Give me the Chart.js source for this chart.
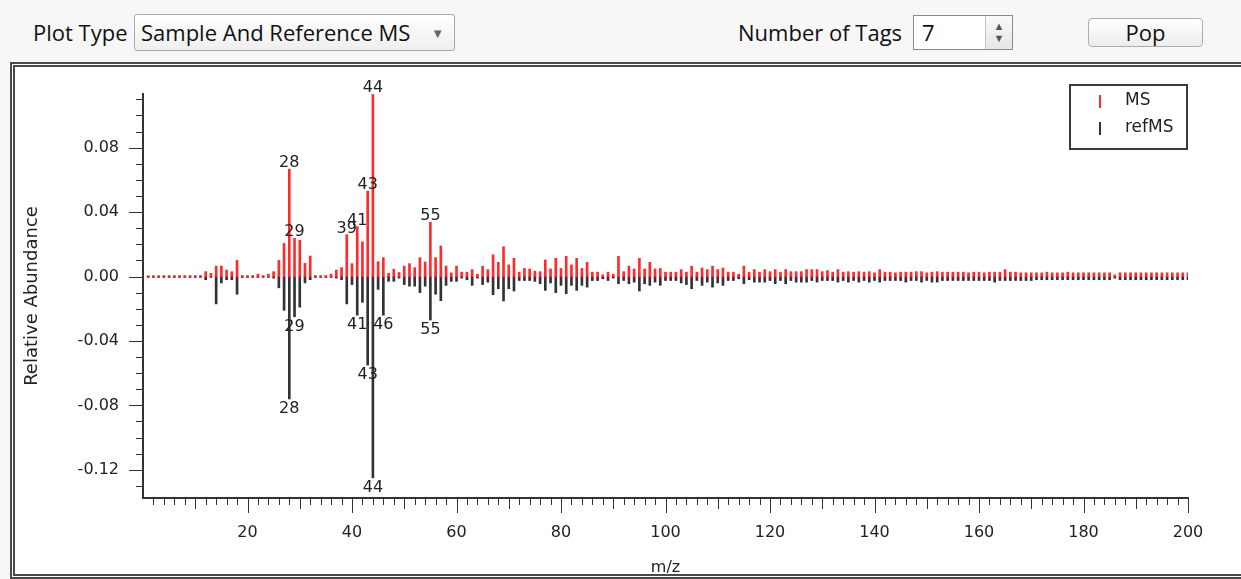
<!DOCTYPE html>
<html>
<head>
<meta charset="utf-8">
<script src="https://cdn.jsdelivr.net/npm/chart.js@4.4.1/dist/chart.umd.min.js"></script>
<style>
  body { margin: 0; width: 1241px; height: 579px; overflow: hidden; position: relative;
         background: #f7f7f7; font-family: "Open Sans", sans-serif; color: #111; }
  .lbl { position: absolute; font-size: 22px; line-height: 28px; }
  .combo { position: absolute; left: 134px; top: 14px; width: 321px; height: 37px; box-sizing: border-box;
           border: 1px solid #a9a9a9; border-radius: 3px; background: linear-gradient(#ffffff, #efefef);
           font-size: 22px; line-height: 34px; padding-left: 6px; }
  .combo .arrow { position: absolute; right: 10px; top: 1px; font-size: 13px; color: #666; }
  .spin { position: absolute; left: 913px; top: 15px; width: 100px; height: 35px; box-sizing: border-box;
          border: 1px solid #8a8a8a; background: #fff; font-size: 22px; line-height: 32px; padding-left: 8px; }
  .spin .btns { position: absolute; right: 0; top: 0; width: 27px; height: 33px; border-left: 1px solid #c4c4c4;
                background: linear-gradient(#fafafa, #e6e6e6); font-size: 11px; line-height: 12px;
                text-align: center; color: #555; padding-top: 4px; box-sizing: border-box; }
  .pop { position: absolute; left: 1088px; top: 18px; width: 115px; height: 29px; box-sizing: border-box;
         border: 1px solid #adadad; border-radius: 4px; background: linear-gradient(#ffffff, #ededed);
         font-size: 22px; line-height: 26px; text-align: center; }
  .frame { position: absolute; left: 10px; top: 62px; width: 1240px; height: 507px;
           border: 5px double #4a4a4a; border-right: none; background: #fff; }
  canvas { position: absolute; left: 0; top: 0; }
</style>
</head>
<body>
<div class="lbl" style="left:33px; top:18px;">Plot Type</div>
<div class="combo">Sample And Reference MS<span class="arrow">&#9660;</span></div>
<div class="lbl" style="left:738px; top:18px;">Number of Tags</div>
<div class="spin">7<div class="btns">&#9650;<br>&#9660;</div></div>
<div class="pop">Pop</div>
<div class="frame"><canvas id="ms" width="1226" height="507"></canvas></div>
<script>
// m/z channels 1..200
const mz = Array.from({ length: 200 }, (_, i) => i + 1);

// sample spectrum (relative abundance)
const msValues = [
  0.0006, 0.0006, 0.0006, 0.0006, 0.0006, 0.0006, 0.0006, 0.0006, 0.0006, 0.0006,
  0.0006, 0.003, 0.002, 0.0065, 0.0065, 0.004, 0.003, 0.010, 0.0006, 0.0006,
  0.0006, 0.0015, 0.0006, 0.0015, 0.003, 0.010, 0.0205, 0.0667, 0.0237, 0.0225,
  0.0082, 0.0127, 0.0006, 0.0006, 0.0006, 0.0015, 0.004, 0.0055, 0.026, 0.008,
  0.031, 0.0215, 0.053, 0.113, 0.0092, 0.0117, 0.002, 0.0045, 0.0025, 0.0065,
  0.008, 0.0055, 0.0117, 0.009, 0.0337, 0.0117, 0.019, 0.0065, 0.0023, 0.0064,
  0.0027, 0.0027, 0.0043, 0.0014, 0.0064, 0.0043, 0.0135, 0.0088, 0.0185, 0.0072,
  0.0113, 0.0027, 0.005, 0.0047, 0.0033, 0.003, 0.0103, 0.0047, 0.0113, 0.005,
  0.0125, 0.0072, 0.0113, 0.005, 0.0088, 0.0027, 0.0027, 0.001, 0.0027, 0.0014,
  0.0125, 0.003, 0.0064, 0.0047, 0.0113, 0.0047, 0.0088, 0.0047, 0.005, 0.0027,
  0.0027, 0.0027, 0.0043, 0.0027, 0.0064, 0.0027, 0.0053, 0.0043, 0.0064, 0.0043,
  0.0053, 0.0027, 0.0027, 0.0014, 0.0064, 0.0027, 0.0043, 0.0027, 0.0043, 0.003,
  0.0043, 0.0027, 0.0043, 0.003, 0.003, 0.003, 0.0043, 0.0043, 0.0043, 0.003,
  0.0037, 0.0027, 0.0043, 0.0027, 0.003, 0.0027, 0.003, 0.0027, 0.003, 0.0023,
  0.0043, 0.0027, 0.0027, 0.0023, 0.0027, 0.0027, 0.0027, 0.003, 0.003, 0.0023,
  0.0027, 0.003, 0.0027, 0.0027, 0.0027, 0.0027, 0.0027, 0.0023, 0.0027, 0.0027,
  0.0023, 0.0027, 0.0027, 0.0027, 0.0043, 0.0027, 0.0027, 0.0023, 0.0023, 0.0023,
  0.0023, 0.0023, 0.0027, 0.0023, 0.0023, 0.0023, 0.0027, 0.0023, 0.0023, 0.0023,
  0.0023, 0.0023, 0.0023, 0.0023, 0.0023, 0.001, 0.0023, 0.0023, 0.0023, 0.0023,
  0.0023, 0.0023, 0.0023, 0.0023, 0.0023, 0.0023, 0.0023, 0.0023, 0.0023, 0.0023
];

// reference spectrum, drawn downwards
const refValues = [
  -0.0006, -0.0006, -0.0006, -0.0006, -0.0006, -0.0006, -0.0006, -0.0006, -0.0006, -0.0006,
  -0.0006, -0.002, -0.0006, -0.017, -0.004, -0.002, -0.002, -0.011, -0.0006, -0.0006,
  -0.0006, -0.0006, -0.0006, -0.0006, -0.001, -0.007, -0.021, -0.076, -0.025, -0.019,
  -0.004, -0.002, -0.0006, -0.0006, -0.0006, -0.0006, -0.001, -0.002, -0.017, -0.005,
  -0.024, -0.016, -0.055, -0.125, -0.008, -0.024, -0.003, -0.003, -0.001, -0.005,
  -0.006, -0.006, -0.010, -0.006, -0.027, -0.011, -0.015, -0.0055, -0.003, -0.003,
  -0.001, -0.002, -0.0055, -0.001, -0.005, -0.0035, -0.0113, -0.0076, -0.0152, -0.0076,
  -0.009, -0.0025, -0.0025, -0.0025, -0.003, -0.0045, -0.0086, -0.004, -0.010, -0.0055,
  -0.0107, -0.0055, -0.0086, -0.0055, -0.0066, -0.0025, -0.0025, -0.0014, -0.0025, -0.001,
  -0.0045, -0.0025, -0.0045, -0.0035, -0.009, -0.0045, -0.0055, -0.0035, -0.0055, -0.0025,
  -0.0025, -0.0025, -0.004, -0.005, -0.0076, -0.0025, -0.0055, -0.0035, -0.0066, -0.004,
  -0.0055, -0.0025, -0.0025, -0.0014, -0.0045, -0.002, -0.0035, -0.0035, -0.0035, -0.0025,
  -0.0045, -0.0025, -0.0045, -0.0025, -0.0035, -0.0035, -0.0035, -0.0025, -0.0035, -0.0025,
  -0.0025, -0.0025, -0.0035, -0.0025, -0.0035, -0.0025, -0.0035, -0.0025, -0.0035, -0.0025,
  -0.0035, -0.0025, -0.0025, -0.0025, -0.0025, -0.0035, -0.0025, -0.0025, -0.0035, -0.0025,
  -0.0035, -0.0035, -0.0025, -0.0025, -0.0025, -0.0025, -0.0025, -0.0025, -0.0025, -0.0025,
  -0.0025, -0.0025, -0.0035, -0.0025, -0.0025, -0.0025, -0.0025, -0.0025, -0.0025, -0.0025,
  -0.002, -0.002, -0.002, -0.002, -0.002, -0.002, -0.002, -0.002, -0.002, -0.002,
  -0.002, -0.002, -0.002, -0.002, -0.002, -0.001, -0.002, -0.002, -0.002, -0.002,
  -0.002, -0.002, -0.002, -0.002, -0.002, -0.002, -0.002, -0.002, -0.002, -0.002
];

// the 7 tagged peaks of each spectrum
const msTags = [44, 28, 43, 41, 39, 29, 55];
const refTags = [44, 28, 43, 29, 41, 46, 55];

const xTicks = [20, 40, 60, 80, 100, 120, 140, 160, 180, 200];
const yTicks = [0.08, 0.04, 0.00, -0.04, -0.08, -0.12];

const textFont = "'DejaVu Sans', sans-serif";
const inkColor = '#222';

// minor / medium / major tick marks drawn from the scales
const tickMarks = {
  id: 'tickMarks',
  afterDraw(chart) {
    const { ctx, scales: { x, y } } = chart;
    ctx.save();
    ctx.strokeStyle = '#333';
    ctx.lineWidth = 1;
    ctx.beginPath();
    for (let v = 2; v <= 200; v += 2) {
      const px = Math.round(x.getPixelForValue(v)) + 0.5;
      const len = v % 20 === 0 ? 15 : (v % 10 === 0 ? 11 : 7);
      ctx.moveTo(px, y.bottom);
      ctx.lineTo(px, y.bottom + len);
    }
    for (let k = -13; k <= 11; k++) {
      const py = Math.round(y.getPixelForValue(k / 100)) + 0.5;
      const len = k % 4 === 0 ? 14 : 7;
      ctx.moveTo(x.left, py);
      ctx.lineTo(x.left - len, py);
    }
    ctx.stroke();
    ctx.restore();
  }
};

// peak labels above/below the tagged sticks
const tagLabels = {
  id: 'tagLabels',
  afterDatasetsDraw(chart) {
    const { ctx, scales: { x, y } } = chart;
    ctx.save();
    ctx.font = '16px ' + textFont;
    ctx.fillStyle = inkColor;
    ctx.textAlign = 'center';
    ctx.textBaseline = 'alphabetic';
    msTags.forEach(t => {
      const v = msValues[mz.indexOf(t)];
      ctx.fillText(String(t), x.getPixelForValue(t), y.getPixelForValue(v) - 2);
    });
    refTags.forEach(t => {
      const v = refValues[mz.indexOf(t)];
      ctx.fillText(String(t), x.getPixelForValue(t), y.getPixelForValue(v) + 14);
    });
    ctx.restore();
  }
};

// boxed legend in the top right corner
const legendBox = {
  id: 'legendBox',
  afterDraw(chart) {
    const { ctx } = chart;
    const bx = 1055, by = 18, bw = 117, bh = 64;
    ctx.save();
    ctx.strokeStyle = '#3a3a3a';
    ctx.lineWidth = 2;
    ctx.strokeRect(bx, by, bw, bh);
    ctx.font = '17px ' + textFont;
    ctx.textBaseline = 'middle';
    chart.data.datasets.forEach((ds, i) => {
      const cy = by + 16 + i * 27;
      ctx.fillStyle = ds.backgroundColor;
      ctx.fillRect(bx + 29, cy - 6, 2, 13);
      ctx.fillStyle = inkColor;
      ctx.fillText(ds.label, bx + 55, cy);
    });
    ctx.restore();
  }
};

new Chart(document.getElementById('ms'), {
  type: 'bar',
  data: {
    datasets: [
      { label: 'MS', data: mz.map((m, i) => ({ x: m, y: msValues[i] })),
        backgroundColor: '#ff2b2b', barThickness: 2, grouped: false },
      { label: 'refMS', data: mz.map((m, i) => ({ x: m, y: refValues[i] })),
        backgroundColor: '#333333', barThickness: 2, grouped: false }
    ]
  },
  options: {
    responsive: false,
    animation: false,
    layout: { padding: { left: 0, right: 53, top: 27, bottom: 0 } },
    plugins: { legend: { display: false }, tooltip: { enabled: false } },
    scales: {
      x: {
        type: 'linear', min: 0, max: 200, offset: false,
        grid: { display: false, drawTicks: false },
        border: { display: true, color: '#333', width: 2 },
        afterBuildTicks: s => { s.ticks = xTicks.map(v => ({ value: v })); },
        ticks: { padding: 25, color: inkColor, autoSkip: false, maxRotation: 0,
                 font: { family: textFont, size: 16 } },
        title: { display: true, text: 'm/z', color: inkColor,
                 font: { family: textFont, size: 16 }, padding: { top: -3, bottom: -3 } },
        afterFit: s => { s.height = 76; s.paddingLeft = 0; s.paddingRight = 0; }
      },
      y: {
        min: -0.1375, max: 0.1133,
        grid: { display: false, drawTicks: false },
        border: { display: true, color: '#333', width: 2 },
        afterBuildTicks: s => { s.ticks = yTicks.map(v => ({ value: v })); },
        ticks: { padding: 24, color: inkColor, callback: v => v.toFixed(2),
                 font: { family: textFont, size: 16 } },
        title: { display: true, text: 'Relative Abundance', color: inkColor,
                 font: { family: textFont, size: 18 }, padding: { top: 7, bottom: 0 } },
        afterFit: s => { s.width = 128; s.paddingTop = 0; s.paddingBottom = 0; }
      }
    }
  },
  plugins: [tickMarks, tagLabels, legendBox]
});
</script>
</body>
</html>
